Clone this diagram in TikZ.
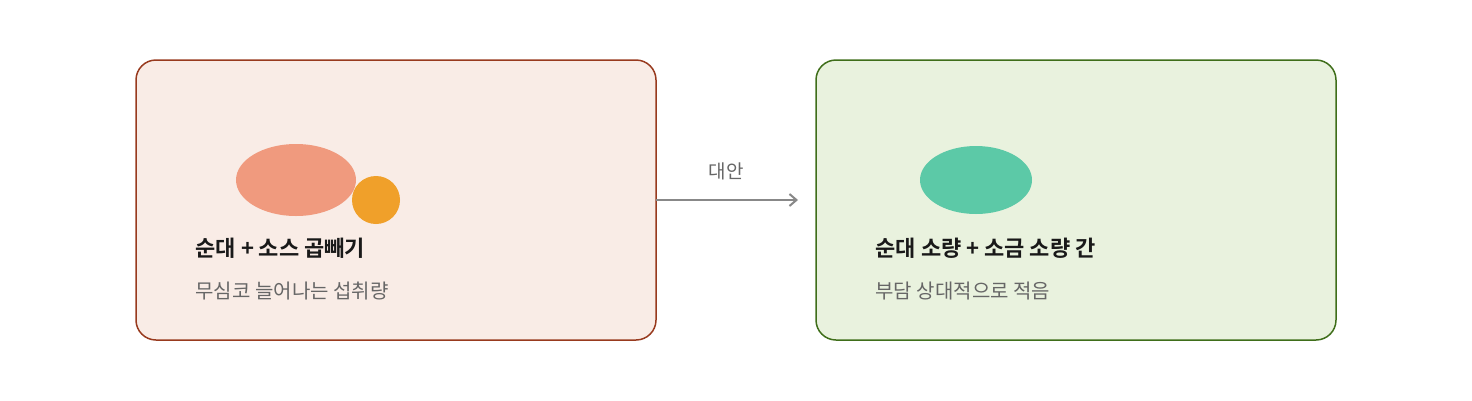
\documentclass[tikz,border=0pt]{standalone}
\usetikzlibrary{arrows.meta}
\usepackage{fontspec}
\setmainfont{Noto Sans CJK KR}[BoldFont={* Bold}]
\definecolor{lfill}{HTML}{F9ECE6}\definecolor{lline}{HTML}{983A1E}
\definecolor{rfill}{HTML}{E9F2DE}\definecolor{rline}{HTML}{3F6E1A}
\definecolor{salmon}{HTML}{F09A7E}\definecolor{orng}{HTML}{F0A02A}
\definecolor{mint}{HTML}{5CC9A7}\definecolor{grayt}{HTML}{666666}
\definecolor{arr}{HTML}{888888}
\begin{document}
\begin{tikzpicture}[x=1pt,y=-1pt,
 box/.style={rounded corners=20pt,line width=1.5pt},
 ttl/.style={anchor=west,font=\fontsize{22}{26}\selectfont\bfseries,text=black!90},
 sub/.style={anchor=west,font=\fontsize{20}{24}\selectfont,text=grayt}]
\useasboundingbox (0,0) rectangle (1472,400);
\draw[box,fill=lfill,draw=lline] (136,60) rectangle (656,340);
\draw[box,fill=rfill,draw=rline] (816,60) rectangle (1336,340);
\fill[salmon] (296,180) ellipse [x radius=60,y radius=36];
\fill[orng] (376,200) circle [radius=24];
\fill[mint] (976,180) ellipse [x radius=56,y radius=34];
\node[ttl] (lt) at (192,248) {순대 + 소스 곱빼기};
\node[sub] (ls) at (192,291) {무심코 늘어나는 섭취량};
\node[ttl] (rt) at (872,248) {순대 소량 + 소금 소량 간};
\node[sub] (rs) at (872,291) {부담 상대적으로 적음};
\coordinate (a1) at (656,200); \coordinate (a2) at (798,200);
\draw[arr,line width=2pt,-{Straight Barb[length=7pt,width=12pt]}] (a1) -- (a2);
\node[font=\fontsize{19}{22}\selectfont,text=grayt] (alt) at (726,171) {대안};
\end{tikzpicture}
\end{document}
